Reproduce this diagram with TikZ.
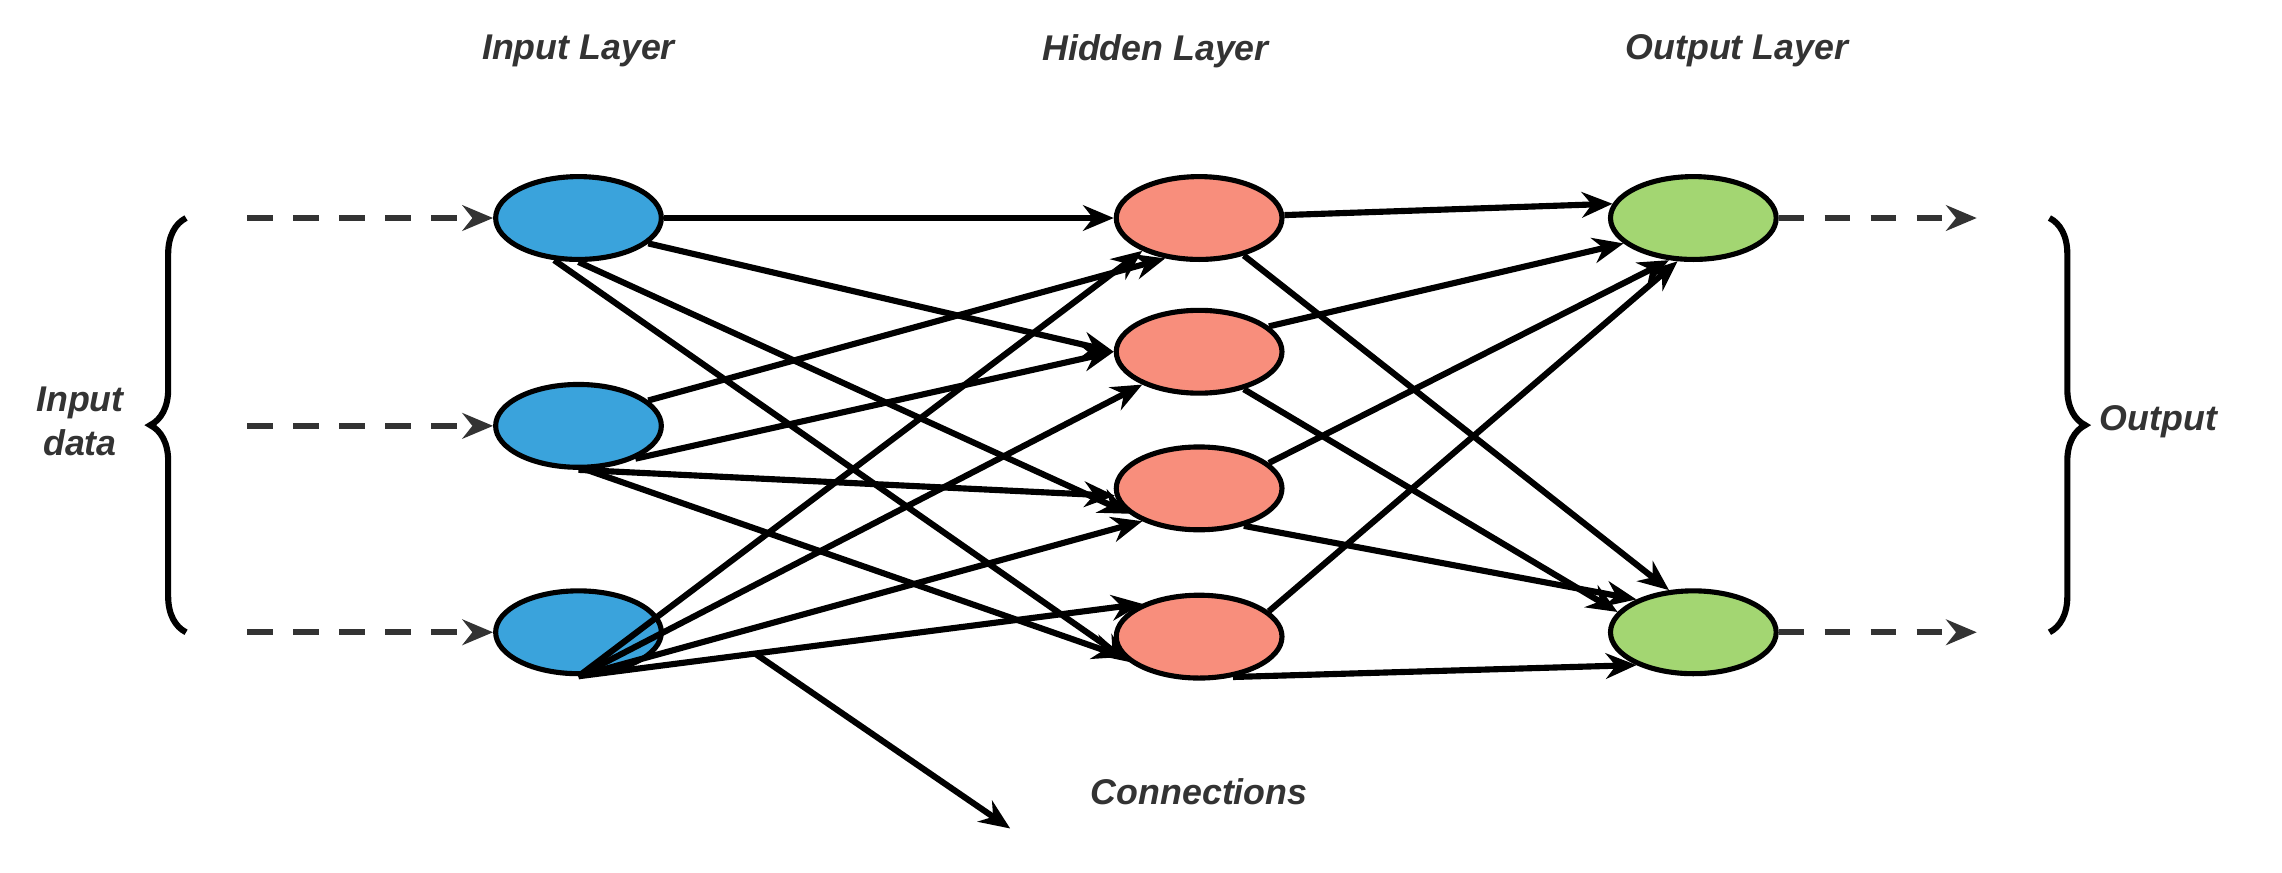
\documentclass[tikz,border=0pt]{standalone}
\usepackage{fontspec}
\setmainfont{Liberation Sans}
\usepackage{tikz}
\usetikzlibrary{arrows.meta}
\usetikzlibrary{shapes.geometric}
\usetikzlibrary{decorations.pathreplacing}

\definecolor{inblue}{HTML}{3AA3DC}
\definecolor{hidred}{HTML}{F88E7C}
\definecolor{outgreen}{HTML}{A3D672}
\definecolor{txtgray}{HTML}{333333}

\begin{document}
\begin{tikzpicture}[font=\fontsize{7pt}{8.5pt}\selectfont\bfseries\itshape]
\useasboundingbox (0,0) rectangle (15.7,6);
\begin{scope}[every node/.style={ellipse,draw,line width=1pt,minimum width=1.14cm,minimum height=0.57cm,inner sep=0pt}]
    \node[fill=inblue] (I1) at (3.98,4.50) {};
    \node[fill=inblue] (I2) at (3.98,3.07) {};
    \node[fill=inblue] (I3) at (3.98,1.65) {};
    \node[fill=hidred] (H1) at (8.25,4.50) {};
    \node[fill=hidred] (H2) at (8.25,3.58) {};
    \node[fill=hidred] (H3) at (8.25,2.64) {};
    \node[fill=hidred] (H4) at (8.25,1.62) {};
    \node[fill=outgreen] (O1) at (11.65,4.50) {};
    \node[fill=outgreen] (O2) at (11.65,1.65) {};
    \end{scope}

\begin{scope}[every node/.style={text=txtgray,align=center}]
    \node (tIn) at (3.98,5.65) {Input Layer};
    \node (tHid) at (7.95,5.65) {Hidden Layer};
    \node (tOut) at (11.95,5.65) {Output Layer};
    \node (tData) at (0.55,3.10) {Input\\data};
    \node (tOutput) at (14.85,3.10) {Output};
    \node (tConn) at (8.25,0.55) {Connections};
    \end{scope}

\coordinate (d1) at (1.70,4.50);
\coordinate (d2) at (1.70,3.07);
\coordinate (d3) at (1.70,1.65);
\coordinate (e1) at (13.60,4.50);
\coordinate (e2) at (13.60,1.65);
\coordinate (c0) at (5.20,1.50);
\coordinate (c1) at (6.95,0.30);

\begin{scope}[>={Stealth[length=6pt,width=5pt]}, line width=1.2pt]
    % dashed inputs and outputs
    \begin{scope}[draw=txtgray,dash pattern=on 5pt off 4pt]
    \draw[->] (d1) -- (I1);
    \draw[->] (d2) -- (I2);
    \draw[->] (d3) -- (I3);
    \draw[->] (O1) -- (e1);
    \draw[->] (O2) -- (e2);
    \end{scope}
    % input to hidden
    \draw[->] (I1) -- (H1);
    \draw[->] (I1.-20) -- (H2.west);
    \draw[->] (I1.south) -- (H3.-160);
    \draw[->] (I1.-120) -- (H4.-160);
    \draw[->] (I2.20) -- (H1.-130);
    \draw[->] (I2.-30) -- (H2.west);
    \draw[->] (I2.south) -- (H3.-175);
    \draw[->] (I2.-80) -- (H4.-165);
    \draw[->] (I3.south) -- (H1.-150);
    \draw[->] (I3.south) -- (H2.-150);
    \draw[->] (I3.south) -- (H3.-150);
    \draw[->] (I3.south) -- (H4.150);
    % hidden to output
    \draw[->] (H1) -- (O1.170);
    \draw[->] (H1.-40) -- (O2.120);
    \draw[->] (H2.20) -- (O1.-160);
    \draw[->] (H2.-40) -- (O2.165);
    \draw[->] (H3.20) -- (O1.-120);
    \draw[->] (H3.-40) -- (O2.150);
    \draw[->] (H4.20) -- (O1.-110);
    \draw[->] (H4.-50) -- (O2.-150);
    % annotation
    \draw[->] (c0) -- (c1);
    \end{scope}

\begin{scope}[decoration={brace,amplitude=7pt},line width=1.2pt]
    \draw[decorate] (1.28,1.65) -- (1.28,4.50);
    \draw[decorate] (14.10,4.50) -- (14.10,1.65);
    \end{scope}

\end{tikzpicture}
\end{document}
